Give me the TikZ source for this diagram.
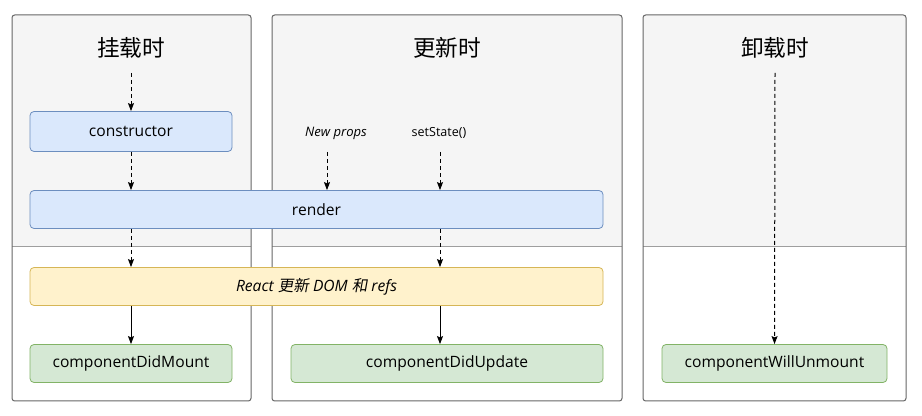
\documentclass[tikz,border=0pt]{standalone}
\usepackage{fontspec}
\setmainfont{Open Sans}
\newfontfamily\cjk{Noto Sans CJK SC}
\newfontfamily\cjkslant{Noto Sans CJK SC}[FakeSlant=0.18]
\usetikzlibrary{arrows.meta}
\definecolor{panelgrey}{HTML}{F5F5F5}
\definecolor{panelline}{HTML}{666666}
\definecolor{divline}{HTML}{9E9E9E}
\definecolor{bluefill}{HTML}{DAE8FC}
\definecolor{blueline}{HTML}{6C8EBF}
\definecolor{yellowfill}{HTML}{FFF2CC}
\definecolor{yellowline}{HTML}{D6B656}
\definecolor{greenfill}{HTML}{D5E8D4}
\definecolor{greenline}{HTML}{82B366}
\tikzset{
  stepbox/.style={draw, rounded corners=3pt, line width=0.6pt, minimum height=28.5pt,
    inner sep=0pt, font=\fontsize{11.7}{13}\selectfont},
  bluebox/.style={stepbox, fill=bluefill, draw=blueline},
  yellowbox/.style={stepbox, fill=yellowfill, draw=yellowline},
  greenbox/.style={stepbox, fill=greenfill, draw=greenline},
  title/.style={font=\cjk\fontsize{17}{20}\selectfont},
  smalllabel/.style={font=\fontsize{9.4}{11}\selectfont},
  flow/.style={line width=0.75pt, -{Stealth[length=6pt,width=4.5pt,inset=1pt]}},
  dashflow/.style={flow, dash pattern=on 3pt off 2.25pt},
}
\begin{document}
\begin{tikzpicture}[x=0.75pt,y=-0.75pt]
\useasboundingbox (0,0) rectangle (922,416);
% panels
\foreach \xa/\xb in {12/251,272/622,643/906}{
  \fill[white, rounded corners=2pt] (\xa,15) rectangle (\xb,401);
  \fill[panelgrey] (\xa,247) [rounded corners=2pt] -- (\xa,15) -- (\xb,15) [sharp corners] -- (\xb,247) -- cycle;
  \draw[divline, line width=0.75pt] (\xa,247) -- (\xb,247);
  \draw[panelline, line width=0.75pt, rounded corners=2pt] (\xa,15) rectangle (\xb,401);
}
\node[title] (mount) at (131,48) {挂载时};
\node[title] (update) at (447,48) {更新时};
\node[title] (unmount) at (775,48) {卸载时};

\node[bluebox, minimum width=151.5pt, minimum height=30pt] (constructor) at (131,131.5) {constructor};
\node[bluebox, minimum width=429.75pt] (render) at (316.5,209.5) {render};
\node[yellowbox, minimum width=429.75pt] (react) at (316.5,286.5) {\itshape React {\cjkslant 更新} DOM {\cjkslant 和} refs};
\node[greenbox, minimum width=151.5pt] (didmount) at (131,363.5) {componentDidMount};
\node[greenbox, minimum width=234pt] (didupdate) at (447,363.5) {componentDidUpdate};
\node[greenbox, minimum width=168.75pt] (willunmount) at (774.5,363.5) {componentWillUnmount};

\node[smalllabel, font=\itshape\fontsize{9.8}{11}\selectfont] (props) at (336,133) {New props};
\node[smalllabel] (setstate) at (439,133) {setState()};

\coordinate (mount0) at (131,73);
\coordinate (props0) at (327,152);
\coordinate (setstate0) at (440,152);
\coordinate (unmount0) at (775,73);

\draw[dashflow] (mount0) -- (constructor);
\draw[dashflow] (constructor) -- (constructor |- render.north);
\draw[dashflow] (render.south -| didmount) -- (react.north -| didmount);
\draw[flow] (react.south -| didmount) -- (didmount);

\draw[dashflow] (props0) -- (props0 |- render.north);
\draw[dashflow] (setstate0) -- (setstate0 |- render.north);
\draw[dashflow] (render.south -| setstate0) -- (react.north -| setstate0);
\draw[flow] (react.south -| setstate0) -- (didupdate.north -| setstate0);

\draw[dashflow] (unmount0) -- (willunmount);
\end{tikzpicture}
\end{document}
